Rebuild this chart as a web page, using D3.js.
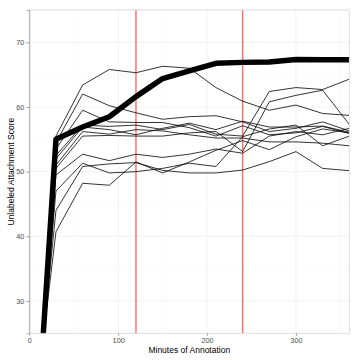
<html>
<head>
	<meta http-equiv="Content-Type" content="text/html; charset=utf-8" />
	<script src="https://cdn.jsdelivr.net/npm/d3@7/dist/d3.min.js" charset="utf-8"></script>
	<style type="text/css">
	body {
		margin: 0;
		background-color: #FFFFFF;
	}
	text {
		font-family: "Liberation Sans", Arial, sans-serif;
	}
	</style>
</head>
<body>
	<svg width="360" height="360" version="1.1" xmlns="http://www.w3.org/2000/svg"></svg>

	<script type="text/javascript">
		/* 数据 */
		var v_Minutes  = [15, 30, 60, 90, 120, 150, 180, 210, 240, 270, 300, 330, 360];
		var v_Best     = [23.4, 55.0, 56.9, 58.5, 61.6, 64.4, 65.6, 66.75, 66.9, 66.95, 67.35, 67.3, 67.3];
		var v_Runs     = [
			[23.5, 55.5, 63.4, 65.8, 65.3, 66.3, 66.0, 63.0, 60.9, 59.5, 60.3, 59.0, 58.7],
			[23.5, 54.5, 62.0, 60.2, 59.1, 58.1, 58.5, 58.65, 57.7, 56.2, 56.7, 57.7, 56.3],
			[23.5, 53.5, 59.5, 57.7, 57.6, 57.6, 56.8, 55.5, 57.1, 55.7, 56.0, 57.0, 55.9],
			[23.5, 52.5, 57.2, 57.0, 57.2, 56.5, 57.3, 55.8, 55.5, 62.4, 63.0, 62.7, 64.3],
			[23.5, 52.0, 56.9, 56.5, 55.7, 56.7, 57.5, 56.5, 57.8, 56.9, 56.9, 57.05, 56.1],
			[23.5, 51.0, 56.2, 55.8, 56.5, 56.3, 55.7, 55.2, 55.2, 54.6, 54.6, 54.4, 54.0],
			[23.5, 50.5, 55.5, 55.6, 55.5, 55.5, 56.0, 56.2, 53.1, 60.8, 61.8, 62.6, 57.3],
			[23.5, 49.5, 52.7, 51.7, 52.7, 52.2, 52.7, 53.5, 52.85, 55.5, 56.2, 55.7, 56.7],
			[23.5, 47.0, 51.3, 49.8, 50.0, 50.5, 51.3, 50.8, 55.4, 56.6, 57.2, 54.0, 55.5],
			[23.5, 44.0, 50.8, 51.2, 51.4, 50.2, 49.8, 49.8, 50.25, 51.55, 53.1, 50.5, 50.15],
			[23.5, 40.7, 48.2, 47.9, 51.5, 49.8, 51.5, 53.3, 54.8, 53.4, 55.4, 56.6, 56.0]
		];
		var v_Marks    = [120, 240];
		var v_XTicks   = [0, 100, 200, 300];
		var v_YTicks   = [30, 40, 50, 60, 70];
		var v_XMinor   = [50, 150, 250, 350];
		var v_YMinor   = [35, 45, 55, 65, 75];

		var v_SVG = d3.select("body").select("svg");

		var v_Left   = 29.3;
		var v_Right  = 349.3;
		var v_Top    = 10;
		var v_Bottom = 333.3;

		var v_X = d3.scaleLinear().domain([0, 360]).range([v_Left, v_Right]);
		var v_Y = d3.scaleLinear().domain([25, 75]).range([v_Bottom, v_Top]);

		/* 网格 */
		var v_Grid = v_SVG.append("g");

		v_Grid.selectAll(".xminor").data(v_XMinor).enter().append("line")
		.attr("x1", function(d) { return v_X(d); })
		.attr("x2", function(d) { return v_X(d); })
		.attr("y1", v_Top).attr("y2", v_Bottom)
		.attr("stroke", "#f7f7f7").attr("stroke-width", 0.6);

		v_Grid.selectAll(".yminor").data(v_YMinor).enter().append("line")
		.attr("y1", function(d) { return v_Y(d); })
		.attr("y2", function(d) { return v_Y(d); })
		.attr("x1", v_Left).attr("x2", v_Right)
		.attr("stroke", "#f7f7f7").attr("stroke-width", 0.6);

		v_Grid.selectAll(".xmajor").data(v_XTicks).enter().append("line")
		.attr("x1", function(d) { return v_X(d); })
		.attr("x2", function(d) { return v_X(d); })
		.attr("y1", v_Top).attr("y2", v_Bottom)
		.attr("stroke", "#eeeeee").attr("stroke-width", 0.8);

		v_Grid.selectAll(".ymajor").data(v_YTicks).enter().append("line")
		.attr("y1", function(d) { return v_Y(d); })
		.attr("y2", function(d) { return v_Y(d); })
		.attr("x1", v_Left).attr("x2", v_Right)
		.attr("stroke", "#eeeeee").attr("stroke-width", 0.8);

		/* 裁剪 */
		v_SVG.append("clipPath").attr("id", "panel")
		.append("rect")
		.attr("x", v_Left).attr("y", v_Top)
		.attr("width", v_Right - v_Left).attr("height", v_Bottom - v_Top);

		var v_Line = d3.line()
		.x(function(d, i) { return v_X(v_Minutes[i]); })
		.y(function(d) { return v_Y(d); });

		var v_Plot = v_SVG.append("g").attr("clip-path", "url(#panel)");

		v_Plot.selectAll(".mark").data(v_Marks).enter().append("line")
		.attr("x1", function(d) { return v_X(d); })
		.attr("x2", function(d) { return v_X(d); })
		.attr("y1", v_Top).attr("y2", v_Bottom)
		.attr("stroke", "#ff6a6a").attr("stroke-width", 1.4);

		v_Plot.selectAll(".run").data(v_Runs).enter().append("path")
		.attr("d", v_Line)
		.attr("fill", "none")
		.attr("stroke", "#000000")
		.attr("stroke-width", 0.8)
		.attr("stroke-linejoin", "round");

		v_Plot.append("path")
		.attr("d", v_Line(v_Best))
		.attr("fill", "none")
		.attr("stroke", "#000000")
		.attr("stroke-width", 5.5)
		.attr("stroke-linejoin", "round");

		/* 边框 */
		v_SVG.append("rect")
		.attr("x", v_Left).attr("y", v_Top)
		.attr("width", v_Right - v_Left).attr("height", v_Bottom - v_Top)
		.attr("fill", "none")
		.attr("stroke", "#d6d6d6")
		.attr("stroke-width", 0.8);

		/* 坐标轴 */
		var v_XAxis = v_SVG.append("g")
		.attr("transform", "translate(0," + v_Bottom + ")")
		.call(d3.axisBottom(v_X).tickValues(v_XTicks).tickSize(2.5).tickPadding(2.5));

		var v_YAxis = v_SVG.append("g")
		.attr("transform", "translate(" + v_Left + ",0)")
		.call(d3.axisLeft(v_Y).tickValues(v_YTicks).tickSize(3).tickPadding(2));

		v_XAxis.select(".domain").remove();
		v_YAxis.select(".domain").attr("stroke", "#a0a0a0").attr("stroke-width", 0.8);

		v_SVG.selectAll(".tick line").attr("stroke", "#8c8c8c").attr("stroke-width", 0.8);
		v_SVG.selectAll(".tick text")
		.attr("fill", "#4d4d4d")
		.style("font-size", "7.3px")
		.style("font-family", "Liberation Sans, Arial, sans-serif");

		v_SVG.append("text")
		.attr("x", (v_Left + v_Right) / 2)
		.attr("y", 352.5)
		.attr("text-anchor", "middle")
		.style("font-size", "8.5px")
		.text("Minutes of Annotation");

		v_SVG.append("text")
		.attr("transform", "translate(14," + ((v_Top + v_Bottom) / 2) + ") rotate(-90)")
		.attr("text-anchor", "middle")
		.style("font-size", "8.5px")
		.text("Unlabeled Attachment Score");
	</script>
</body>
</html>
